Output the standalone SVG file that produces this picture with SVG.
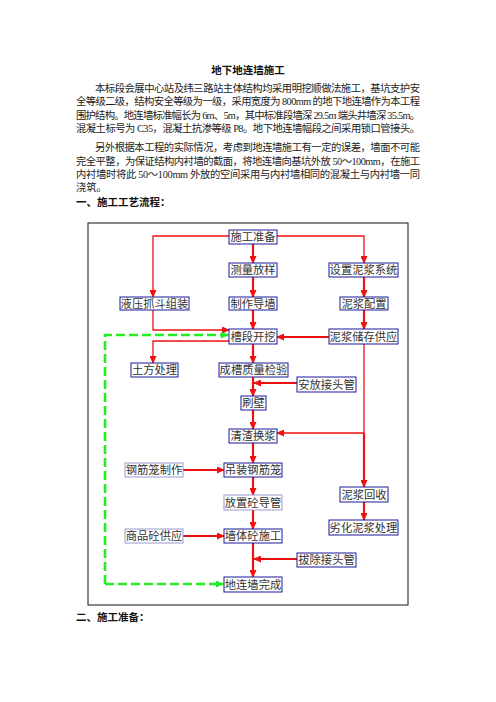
<svg xmlns="http://www.w3.org/2000/svg" width="496" height="702" viewBox="0 0 496 702">
<defs>
<marker id="ar" markerUnits="userSpaceOnUse" markerWidth="8" markerHeight="7" refX="7" refY="3.5" orient="auto">
<path d="M0,0 L8,3.5 L0,7 Z" fill="#ee1111"/>
</marker>
<marker id="ag" markerUnits="userSpaceOnUse" markerWidth="8" markerHeight="7" refX="7" refY="3.5" orient="auto">
<path d="M0,0 L8,3.5 L0,7 Z" fill="#22ee22"/>
</marker>
<style>
.t{font-family:"Liberation Serif","Noto Sans CJK SC",serif;font-size:10.3px;fill:#222}
.h{font-family:"Liberation Serif","Noto Sans CJK SC",serif;font-size:10.5px;font-weight:bold;fill:#111}
.b rect{fill:#fff;stroke:#1a1a99;stroke-width:1}
.b.l rect{stroke:#9a9ad0}
.b text{font-family:"Liberation Serif","Noto Sans CJK SC",serif;font-size:11.3px;fill:#333;text-anchor:middle}
.c path{fill:none;stroke:#ee1111;stroke-width:2.2;marker-end:url(#ar)}
.c path.n{stroke-width:1.3}
.c path.g{stroke:#22ee22;stroke-width:2.6;stroke-dasharray:9,4;marker-end:url(#ag)}
</style>
</defs>
<rect width="496" height="702" fill="#fff"/>
<g id="text">
<text class="h" x="248" y="74" text-anchor="middle">地下地连墙施工</text>
<text class="t" x="95" y="92" textLength="325" lengthAdjust="spacing">本标段会展中心站及纬三路站主体结构均采用明挖顺做法施工，基坑支护安</text>
<text class="t" x="76" y="105" textLength="344" lengthAdjust="spacing">全等级二级，结构安全等级为一级，采用宽度为 800mm 的地下地连墙作为本工程</text>
<text class="t" x="76" y="119" textLength="344" lengthAdjust="spacing">围护结构。地连墙标准幅长为 6m、5m，其中标准段墙深 29.5m 端头井墙深 35.5m。</text>
<text class="t" x="76" y="132" textLength="344" lengthAdjust="spacing">混凝土标号为 C35，混凝土抗渗等级 P8。地下地连墙幅段之间采用锁口管接头。</text>
<text class="t" x="95" y="151" textLength="325" lengthAdjust="spacing">另外根据本工程的实际情况，考虑到地连墙施工有一定的误差，墙面不可能</text>
<text class="t" x="76" y="165" textLength="344" lengthAdjust="spacing">完全平整，为保证结构内衬墙的截面，将地连墙向基坑外放 50～100mm，在施工</text>
<text class="t" x="76" y="178" textLength="344" lengthAdjust="spacing">内衬墙时将此  50～100mm  外放的空间采用与内衬墙相同的混凝土与内衬墙一同</text>
<text class="t" x="76" y="191">浇筑。</text>
<text class="h" x="76" y="206">一、施工工艺流程：</text>
<text class="h" x="76" y="621">二、施工准备：</text>
</g>
<rect id="frame" x="88" y="223" width="320" height="382" fill="none" stroke="#111" stroke-width="1"/>
<g id="connectors" class="c">
<path d="M253,244 V263"/>
<path class="n" d="M229,236 H153 V297"/>
<path class="n" d="M277,236 H364 V263"/>
<path d="M253,277 V297"/>
<path d="M364,277 V297"/>
<path d="M253,310 V329"/>
<path d="M364,310 V329"/>
<path class="n" d="M153,310 V330 H229"/>
<path d="M329,337 H277"/>
<path class="n" d="M229,341 H153 V363"/>
<path d="M253,344 V363"/>
<path d="M253,377 V396"/>
<path d="M297,383 H254"/>
<path d="M253,410 V429"/>
<path class="n" d="M364,344 V433 H277"/>
<path d="M364,433 V487"/>
<path d="M253,443 V463"/>
<path d="M364,502 V520"/>
<path d="M183,470 H224"/>
<path d="M253,477 V495"/>
<path d="M253,510 V529"/>
<path d="M183,536 H224"/>
<path d="M253,543 V577"/>
<path d="M297,559 H254"/>
<path class="g" d="M105,584 V335 H228"/>
<path class="g" d="M105,584 H223"/>
</g>
<g id="n1" class="b"><rect x="229" y="230" width="48" height="14"/><text x="253" y="241">施工准备</text></g>
<g id="n2" class="b"><rect x="229" y="263" width="48" height="14"/><text x="253" y="274">测量放样</text></g>
<g id="n3" class="b"><rect x="329" y="263" width="69" height="14"/><text x="363.5" y="274">设置泥浆系统</text></g>
<g id="n4" class="b"><rect x="120" y="297" width="69" height="13"/><text x="154.5" y="307.5">液压抓斗组装</text></g>
<g id="n5" class="b"><rect x="229" y="297" width="48" height="13"/><text x="253" y="307.5">制作导墙</text></g>
<g id="n6" class="b"><rect x="340" y="297" width="48" height="13"/><text x="364" y="307.5">泥浆配置</text></g>
<g id="n7" class="b"><rect x="229" y="329" width="48" height="15"/><text x="253" y="340.5">槽段开挖</text></g>
<g id="n8" class="b"><rect x="329" y="329" width="69" height="15"/><text x="363.5" y="340.5">泥浆储存供应</text></g>
<g id="n9" class="b"><rect x="131" y="363" width="47" height="14"/><text x="154.5" y="374">土方处理</text></g>
<g id="n10" class="b"><rect x="219" y="363" width="69" height="14"/><text x="253.5" y="374">成槽质量检验</text></g>
<g id="n11" class="b"><rect x="297" y="377" width="59" height="15"/><text x="326.5" y="388.5">安放接头管</text></g>
<g id="n12" class="b"><rect x="241" y="396" width="25" height="14"/><text x="253.5" y="407">刷壁</text></g>
<g id="n13" class="b"><rect x="229" y="429" width="48" height="14"/><text x="253" y="440">清渣换浆</text></g>
<g id="n14" class="b l"><rect x="125" y="463" width="58" height="14"/><text x="154" y="474">钢筋笼制作</text></g>
<g id="n15" class="b"><rect x="224" y="463" width="58" height="14"/><text x="253" y="474">吊装钢筋笼</text></g>
<g id="n16" class="b"><rect x="340" y="487" width="48" height="15"/><text x="364" y="498.5">泥浆回收</text></g>
<g id="n17" class="b l"><rect x="224" y="495" width="58" height="15"/><text x="253" y="506.5">放置砼导管</text></g>
<g id="n18" class="b"><rect x="329" y="520" width="69" height="15"/><text x="363.5" y="531.5">劣化泥浆处理</text></g>
<g id="n19" class="b l"><rect x="125" y="529" width="58" height="14"/><text x="154" y="540">商品砼供应</text></g>
<g id="n20" class="b"><rect x="224" y="529" width="58" height="14"/><text x="253" y="540">墙体砼施工</text></g>
<g id="n21" class="b"><rect x="297" y="553" width="59" height="14"/><text x="326.5" y="564">拔除接头管</text></g>
<g id="n22" class="b"><rect x="224" y="577" width="58" height="15"/><text x="253" y="588.5">地连墙完成</text></g>
</svg>
